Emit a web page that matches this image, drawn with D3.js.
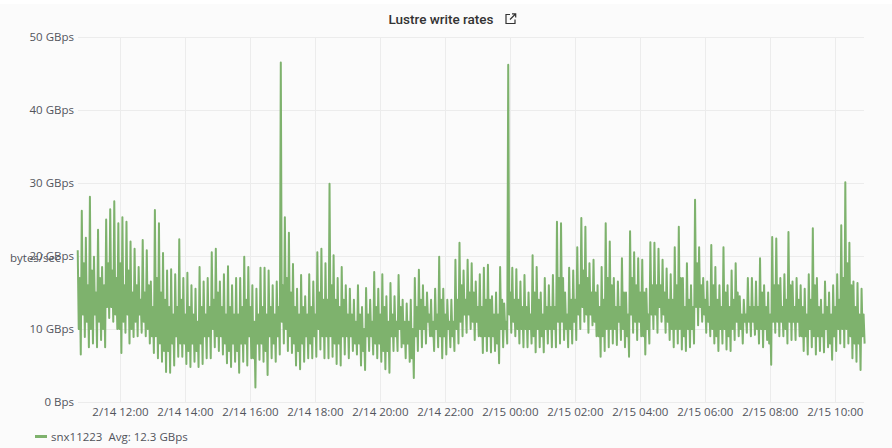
<!DOCTYPE html>
<html><head><meta charset="utf-8">
<script src="https://cdn.jsdelivr.net/npm/d3@7"></script>
<style>
html,body{margin:0;padding:0;background:#fff;}
svg{display:block;}
text{font-family:"Open Sans",sans-serif;}
</style></head>
<body>
<svg id="chart" width="892" height="448"></svg>
<script>
// ---- data ----
const title = "Lustre write rates";
const seriesName = "snx11223";
const legendAvg = "Avg: 12.3 GBps";
const yAxisLabel = "bytes/sec";
const startTime = "2019-02-14T10:42:00";
const stepMinutes = 1.875;   // samples: peak, inner trough, inner peak, trough
const yTickValues = [0, 10, 20, 30, 40, 50];
const yTickLabels = ["0 Bps", "10 GBps", "20 GBps", "30 GBps", "40 GBps", "50 GBps"];
const xTickLabels = ["2/14 12:00","2/14 14:00","2/14 16:00","2/14 18:00","2/14 20:00","2/14 22:00",
  "2/15 00:00","2/15 02:00","2/15 04:00","2/15 06:00","2/15 08:00","2/15 10:00"];
// outer peaks (GBps), 8 per hour
const peaks = [
  20.8,26.2,22.5,28.1,19.9,23.6,18.5,25.0,
  26.4,27.5,24.5,25.3,24.7,22.0,21.0,18.5,
  22.2,20.8,16.5,26.3,24.5,20.4,18.0,18.2,
  17.5,22.3,17.0,17.7,16.0,15.5,18.5,16.5,
  17.0,20.5,21.0,16.5,17.5,18.6,16.0,17.0,
  17.0,19.9,18.5,16.0,15.5,18.4,18.4,18.0,
  16.0,16.5,46.5,25.3,23.2,18.9,15.5,17.4,
  14.5,17.5,16.5,20.5,21.0,19.0,29.9,20.1,
  17.0,18.5,16.0,15.5,14.0,16.0,13.0,15.6,
  14.0,17.8,15.5,17.5,14.5,16.3,14.5,17.4,
  14.0,13.5,14.0,17.0,18.1,16.0,15.0,14.0,
  15.5,19.9,15.5,14.0,14.0,19.5,21.8,18.0,
  19.5,19.0,16.5,17.5,18.4,18.8,14.5,15.0,
  18.5,13.5,46.2,18.4,18.2,16.5,17.4,15.0,
  20.1,18.5,15.0,17.0,16.0,17.4,24.7,24.5,
  15.0,18.4,18.0,21.2,25.2,24.0,19.0,19.5,
  16.0,18.5,24.5,22.0,17.0,16.5,19.7,15.0,
  23.4,20.5,19.7,19.5,15.5,21.9,21.8,21.0,
  19.5,18.3,17.5,21.2,24.0,17.0,19.0,16.0,
  27.7,21.2,17.0,16.5,21.5,18.5,16.0,21.2,
  16.0,18.0,19.0,14.5,14.0,17.0,17.0,16.5,
  19.7,16.0,15.0,22.6,22.4,17.0,17.5,23.3,
  16.5,17.0,16.0,15.5,17.5,23.8,17.0,14.0,
  16.5,15.0,16.0,17.5,24.2,30.1,21.8,16.5,
  16.3,15.5
];
// inner troughs (GBps), 8 per hour
const innerTroughs = [
  10,12,11,10,12,11,10,13,
  13,12,10,11,12,10,11,12,
  11,10,9,9,8,7,7,8,
  9,8,8,7,8,7,8,9,
  9,10,9,9,8,7,8,7,
  8,8,9,6,8,8,7,9,
  8,9,11,10,9,8,7,8,
  9,8,9,10,9,9,9,8,
  8,9,9,9,8,8,7,9,
  9,8,8,7,7,9,9,10,
  8,8,6,9,10,10,11,9,
  10,9,9,10,9,10,11,12,
  12,11,11,9,9,9,9,8,
  10,10,12,11,10,10,10,10,
  9,10,9,10,10,10,11,11,
  10,10,11,12,13,12,12,11,
  9,9,10,10,10,11,10,9,
  12,11,11,9,10,12,12,13,
  12,11,10,10,10,9,10,10,
  13,13,12,11,10,9,10,10,
  9,10,11,10,11,11,11,10,
  10,10,8,11,11,11,10,11,
  11,11,9,9,10,9,9,9,
  10,8,9,10,10,10,9,8,
  8,9
];
// inner peaks (GBps), 8 per hour
const innerPeaks = [
  17,19,16,18,15,17,16,19,
  18,17,19,16,18,15,16,14,
  15,16,13,17,15,14,13,12,
  13,14,12,13,12,11,13,12,
  13,14,15,13,12,13,12,12,
  13,14,13,11,12,13,12,13,
  12,13,16,17,15,13,12,13,
  12,13,12,15,14,14,16,14,
  13,14,12,12,11,12,10,12,
  11,13,12,13,11,12,11,13,
  11,11,10,13,14,13,12,11,
  12,14,12,11,11,14,16,14,
  15,15,13,13,14,14,12,12,
  14,11,15,14,14,13,13,12,
  15,14,12,13,13,13,17,17,
  12,14,14,16,18,17,15,15,
  13,14,17,16,13,13,15,12,
  17,16,15,15,12,16,16,16,
  15,14,14,16,17,13,14,13,
  19,16,14,13,16,14,13,15,
  13,14,15,12,12,13,13,13,
  15,13,12,16,16,13,14,16,
  13,14,13,12,14,16,13,12,
  13,12,13,14,17,19,16,13,
  12,12
];
// outer troughs (GBps), 8 per hour
const troughs = [
  6.5,8.9,7.5,8.0,7.5,8.5,7.5,11.5,
  11.0,10.0,6.7,9.5,8.0,8.9,9.0,9.5,
  9.0,8.0,6.7,6.0,5.5,4.1,4.0,5.0,
  6.2,6.2,5.2,4.8,5.5,4.8,5.2,6.0,
  6.0,7.5,7.0,6.5,5.3,4.8,5.5,4.0,
  5.5,5.0,6.0,2.0,5.8,5.5,3.7,6.0,
  5.5,6.5,8.0,7.0,6.7,5.0,4.5,5.5,
  6.0,6.0,6.2,7.2,6.0,6.0,6.2,5.2,
  5.0,6.5,6.0,7.0,6.5,5.0,4.4,7.0,
  6.5,6.0,5.5,4.5,4.0,7.0,7.0,7.5,
  6.0,5.5,3.3,7.0,7.5,8.0,9.0,7.0,
  7.5,6.0,6.5,7.5,7.0,8.0,9.0,9.5,
  10.0,8.5,9.0,6.7,7.0,6.8,7.0,5.3,
  7.5,8.0,9.5,9.0,8.0,7.5,7.5,8.0,
  6.8,7.5,6.8,8.0,7.5,7.5,8.0,8.5,
  7.5,8.0,8.5,10.0,11.0,9.5,10.5,9.0,
  6.2,7.0,7.5,8.0,7.8,8.5,7.5,6.2,
  9.5,8.5,9.0,6.5,8.0,10.0,9.5,11.0,
  9.5,8.5,7.5,8.0,7.2,7.0,7.5,8.0,
  10.5,11.0,9.5,9.0,8.0,7.0,8.0,7.2,
  7.0,8.5,9.0,8.0,9.5,9.0,9.2,8.0,
  7.5,8.5,5.1,9.5,9.0,9.0,8.0,8.5,
  8.5,9.0,7.0,6.5,7.5,6.5,7.0,6.8,
  7.5,5.8,7.0,8.0,7.5,8.0,6.0,5.5,
  4.4,8.0
];

// ---- build series ----
const parse = d3.timeParse("%Y-%m-%dT%H:%M:%S");
const t0 = parse(startTime);
const series = [];
peaks.forEach((p, k) => {
  [p, innerTroughs[k], innerPeaks[k], troughs[k]].forEach((v, j) => {
    series.push({t: new Date(t0.getTime() + (4*k + j) * stepMinutes * 60000), v: v});
  });
});
const tickParse = d3.timeParse("%m/%d %H:%M %Y");
const xTicks = xTickLabels.map(s => tickParse(s + " 2019"));

// ---- layout ----
const W = 892, H = 448;
const m = {left: 78, right: 28, top: 37, bottom: 46};
const svg = d3.select("#chart");
svg.append("rect").attr("x", 0).attr("y", 4).attr("width", W).attr("height", H - 4).attr("fill", "#fbfbfb");

const x = d3.scaleTime()
  .domain([parse("2019-02-14T10:42:30"), parse("2019-02-15T10:54:00")])
  .range([m.left, W - m.right]);
const y = d3.scaleLinear().domain([0, 50]).range([H - m.bottom, m.top]);

// grid
const grid = svg.append("g");
grid.selectAll("line.h").data(yTickValues).join("line")
  .attr("x1", m.left).attr("x2", W - m.right)
  .attr("y1", d => y(d) + 0.5).attr("y2", d => y(d) + 0.5)
  .attr("stroke", "#ececec").attr("stroke-width", 1);
grid.selectAll("line.v").data(xTicks).join("line")
  .attr("x1", d => Math.round(x(d)) + 0.5).attr("x2", d => Math.round(x(d)) + 0.5)
  .attr("y1", m.top).attr("y2", H - m.bottom)
  .attr("stroke", "#ececec").attr("stroke-width", 1);

// y axis
const yAxis = d3.axisLeft(y).tickValues(yTickValues)
  .tickFormat((d, i) => yTickLabels[i]).tickSize(0).tickPadding(4);
const gy = svg.append("g").attr("transform", `translate(${m.left},0)`).call(yAxis);
gy.select(".domain").remove();
gy.selectAll("text").attr("fill", "#52545c").style("font-size", "11.5px").style("font-family", "'Open Sans'");

// x axis
const xAxis = d3.axisBottom(x).tickValues(xTicks)
  .tickFormat((d, i) => xTickLabels[i]).tickSize(0).tickPadding(6);
const gx = svg.append("g").attr("transform", `translate(0,${H - m.bottom})`).call(xAxis);
gx.select(".domain").remove();
gx.selectAll("text").attr("fill", "#52545c").style("font-size", "11.5px").style("font-family", "'Open Sans'");

// y axis label (overlaps the 20 GBps tick as in the original panel)
svg.append("text").attr("x", 10).attr("y", 262).text(yAxisLabel)
  .attr("fill", "#52545c").style("font-size", "11.5px");

// line
const line = d3.line().x(d => x(d.t)).y(d => y(d.v));
svg.append("path").datum(series).attr("d", line)
  .attr("fill", "none").attr("stroke", "#7eb26d").attr("stroke-width", 2)
  .attr("stroke-linejoin", "round");

// title
svg.append("text").attr("x", 441).attr("y", 24).attr("text-anchor", "middle")
  .text(title).attr("fill", "#333").style("font-family", "Roboto").style("font-size", "13.5px").style("font-weight", "500");
// external link icon
const ic = svg.append("g").attr("transform", "translate(505,13)").attr("fill", "none")
  .attr("stroke", "#333").attr("stroke-width", 1.2);
ic.append("path").attr("d", "M5,1.5 H1 V10.5 H10 V6.5");
ic.append("path").attr("d", "M5,6.5 L10.5,1 M7,0.8 H10.7 V4.5");

// legend
svg.append("line").attr("x1", 35).attr("x2", 47).attr("y1", 436.5).attr("y2", 436.5)
  .attr("stroke", "#7eb26d").attr("stroke-width", 3);
svg.append("text").attr("x", 51).attr("y", 440.5)
  .text(seriesName + "  " + legendAvg).attr("xml:space", "preserve")
  .attr("fill", "#52545c").style("font-size", "11.5px");
</script>
</body></html>
